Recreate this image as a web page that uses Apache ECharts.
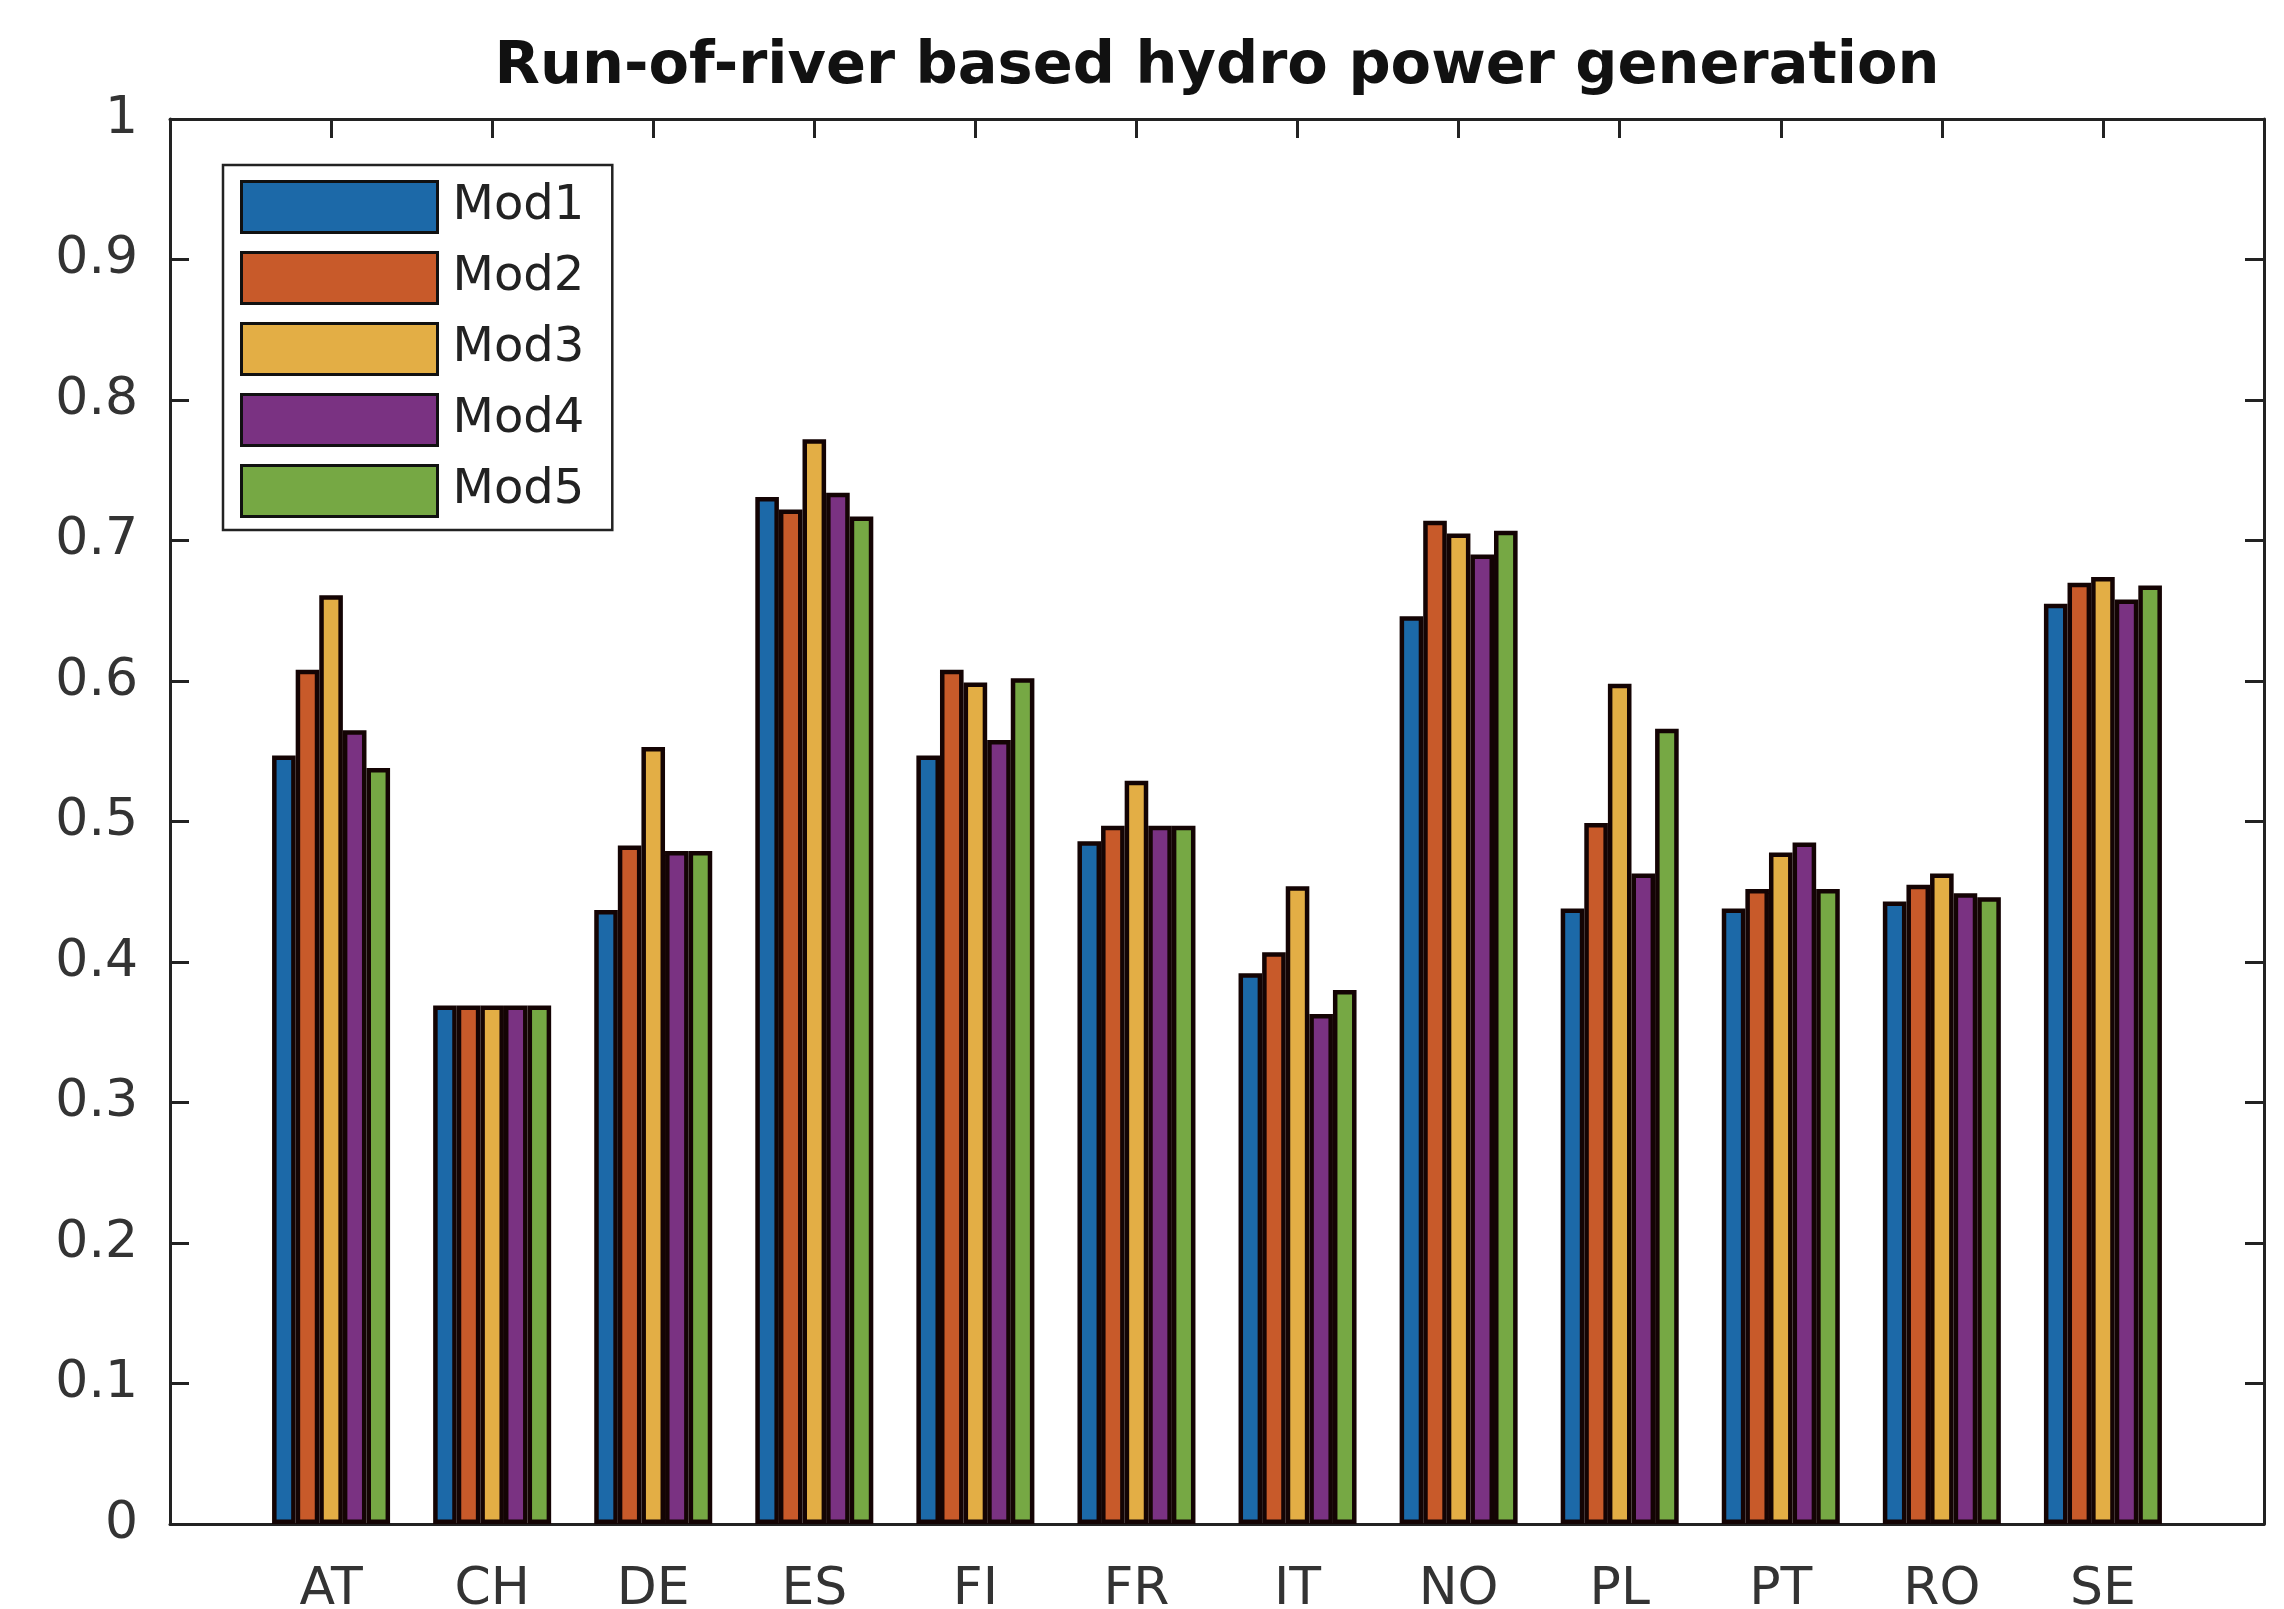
<!DOCTYPE html>
<html>
<head>
<meta charset="utf-8">
<script src="https://cdn.jsdelivr.net/npm/echarts@6/dist/echarts.min.js"></script>
<style>
  html, body { margin: 0; padding: 0; background: #fff; }
  #chart { width: 2284px; height: 1609px; }
</style>
</head>
<body>
<div id="chart"></div>
<script>
// categories and values
const countries = ['AT', 'CH', 'DE', 'ES', 'FI', 'FR', 'IT', 'NO', 'PL', 'PT', 'RO', 'SE']
const mod1 = [0.547, 0.369, 0.437, 0.731, 0.547, 0.486, 0.392, 0.646, 0.438, 0.438, 0.443, 0.655]
const mod2 = [0.608, 0.369, 0.483, 0.722, 0.608, 0.497, 0.407, 0.714, 0.499, 0.452, 0.455, 0.670]
const mod3 = [0.661, 0.369, 0.553, 0.772, 0.599, 0.529, 0.454, 0.705, 0.598, 0.478, 0.463, 0.674]
const mod4 = [0.565, 0.369, 0.479, 0.734, 0.558, 0.497, 0.363, 0.690, 0.463, 0.485, 0.449, 0.658]
const mod5 = [0.538, 0.369, 0.479, 0.717, 0.602, 0.497, 0.380, 0.707, 0.566, 0.452, 0.446, 0.668]
const seriesNames = ['Mod1', 'Mod2', 'Mod3', 'Mod4', 'Mod5']

const titleText = 'Run-of-river based hydro power generation'
const font = 'DejaVu Sans'
const colors = ['#1c69a8', '#c85a2a', '#e3ae45', '#7a3282', '#76a844']

// centre the title over the plot box, not the page
const plotLeft = 170, plotRight = 2264
let ctx = document.createElement('canvas').getContext('2d')
ctx.font = 'bold 59px "' + font + '"'
let titleW = ctx.measureText(titleText).width
let titleLeft = (plotLeft + plotRight) / 2 - titleW / 2

let chart = echarts.init(document.getElementById('chart'))

function toPoints(vals) {
  return vals.map((v, i) => [i + 1, v])
}

let allSeries = [mod1, mod2, mod3, mod4, mod5].map((vals, k) => ({
  name: seriesNames[k],
  type: 'bar',
  xAxisIndex: 0,
  yAxisIndex: 0,
  barWidth: 23.6,
  barGap: '0%',
  itemStyle: {color: colors[k], borderColor: '#140404', borderWidth: 4.5},
  data: toPoints(vals)
}))

// onZero off, otherwise the top/right axes snap onto the bottom/left ones
let axisLine = {show: true, onZero: false, lineStyle: {color: '#222', width: 3}}
let tickIn = {show: true, inside: true, length: 19, lineStyle: {color: '#222', width: 3}}

let option = {
  backgroundColor: '#fff',
  animation: false,
  title: {
    text: titleText,
    left: titleLeft,
    top: 38,
    padding: 0,
    textStyle: {fontFamily: font, fontWeight: 'bold', fontSize: 59, color: '#111'}
  },
  legend: {
    orient: 'vertical',
    left: 223,
    top: 165,
    padding: [15, 28, 12, 17],
    itemWidth: 196,
    itemHeight: 51,
    itemGap: 17,
    backgroundColor: '#fff',
    borderColor: '#222',
    borderWidth: 2.5,
    borderRadius: 0,
    icon: 'rect',
    itemStyle: {borderColor: '#111', borderWidth: 3},
    textStyle: {fontFamily: font, fontSize: 48, color: '#222', padding: [0, 0, 0, 10]},
    data: seriesNames
  },
  // the x labels run off the bottom edge in the original, so keep the box fixed
  grid: {
    left: plotLeft, right: 2284 - plotRight, top: 119, bottom: 85,
    containLabel: false, outerBoundsMode: 'none'
  },
  xAxis: [
    {
      type: 'value', min: 0, max: 13, interval: 1, position: 'bottom',
      axisLine: axisLine, axisTick: tickIn, splitLine: {show: false},
      axisLabel: {
        margin: 40, fontFamily: font, fontSize: 52, color: '#333',
        formatter: v => countries[v - 1] || ''
      }
    },
    {
      type: 'value', min: 0, max: 13, interval: 1, position: 'top',
      axisLine: axisLine, axisTick: tickIn, splitLine: {show: false},
      axisLabel: {show: false}
    }
  ],
  yAxis: [
    {
      type: 'value', min: 0, max: 1, interval: 0.1, position: 'left',
      axisLine: axisLine, axisTick: tickIn, splitLine: {show: false},
      axisLabel: {
        margin: 32, fontFamily: font, fontSize: 52, color: '#333',
        formatter: v => String(+v.toFixed(1))
      }
    },
    {
      type: 'value', min: 0, max: 1, interval: 0.1, position: 'right',
      axisLine: axisLine, axisTick: tickIn, splitLine: {show: false},
      axisLabel: {show: false}
    }
  ],
  series: allSeries
}

chart.setOption(option)
</script>
</body>
</html>
